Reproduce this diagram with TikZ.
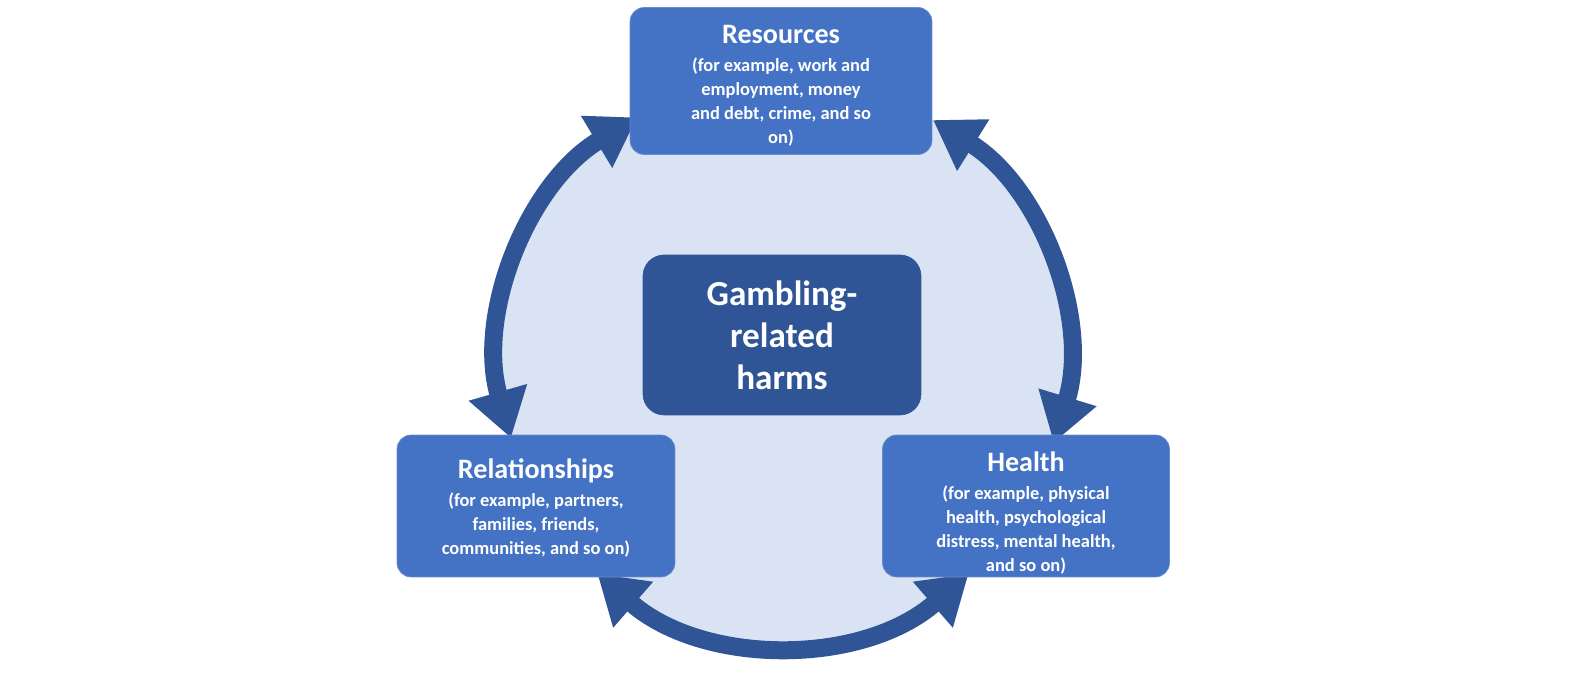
\documentclass[tikz,border=0pt]{standalone}
\usepackage{fontspec}
\setmainfont{Carlito}
\usetikzlibrary{arrows.meta}
\definecolor{ringc}{HTML}{2F5597}
\definecolor{boxc}{HTML}{4472C4}
\definecolor{bgc}{HTML}{DAE3F3}
\begin{document}
\begin{tikzpicture}[x=0.02cm,y=0.02cm,
  box/.style={fill=boxc,draw=boxc!80!white,rounded corners=8pt,inner sep=0pt},
  ttl/.style={text=white,font=\bfseries\fontsize{16pt}{19pt}\selectfont,anchor=base},
  sub/.style={text=white,align=center,font=\bfseries\fontsize{10.5pt}{13.5pt}\selectfont,anchor=north},
  ring/.style={draw=ringc,line width=0.36cm,{Triangle[length=0.95cm,width=1.15cm]}-{Triangle[length=0.95cm,width=1.15cm]}}]
\useasboundingbox (0,0) rectangle (1575,689);
\coordinate (c) at (783,329);
\fill[bgc] (c) circle (283);
\draw[ring] ([shift={(121:283)}]c) arc (121:196:283);
\draw[ring] ([shift={(229:283)}]c) arc (229:311:283);
\draw[ring] ([shift={(58:283)}]c) arc (58:-17:283);
\node[box,minimum width=6.04cm,minimum height=2.94cm] (res) at (781,608) {};
\node[ttl] (rest) at (781,645) {Resources};
\node[sub] (ress) at (781,637) {(for example, work and\\employment, money\\and debt, crime, and so\\on)};
\node[box,minimum width=5.56cm,minimum height=2.84cm] (rel) at (536,183) {};
\node[ttl] (relt) at (536,210) {Relationships};
\node[sub] (rels) at (536,202) {(for example, partners,\\families, friends,\\communities, and so on)};
\node[box,minimum width=5.74cm,minimum height=2.84cm] (hea) at (1026,183) {};
\node[ttl] (heat) at (1026,217) {Health};
\node[sub] (heas) at (1026,209) {(for example, physical\\health, psychological\\distress, mental health,\\and so on)};
\node[box,fill=ringc,draw=ringc,rounded corners=12pt,minimum width=5.56cm,minimum height=3.2cm,text=white,align=center,font=\bfseries\fontsize{20pt}{24pt}\selectfont] (gam) at (782,354) {Gambling-\\related\\harms};
\end{tikzpicture}
\end{document}
